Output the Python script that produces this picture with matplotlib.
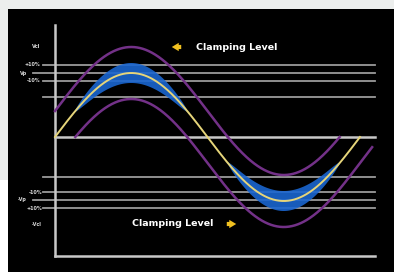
import numpy as np
import matplotlib
matplotlib.use("Agg")
import matplotlib.pyplot as plt
from matplotlib.patches import Rectangle

# signal levels (arbitrary units, zero line = 0)
amp = 64.0           # yellow sine peak
tol = 26.0           # purple envelope offset
band = 10.0          # blue band half width at the peak
level_upper = [72, 64, 56, 40]
level_lower = [-40, -55, -63, -71]
label_upper = ["Vcl", "+10%", "Vp", "-10%"]
label_upper_y = [90, 72, 64, 56]
label_lower = ["-10%", "-Vp", "+10%", "-Vcl"]
label_lower_y = [-55, -63, -71, -87]
clamp_text = "Clamping Level"

px_per_rad = 305 / (2 * np.pi)

fig = plt.figure(figsize=(3.94, 2.72), dpi=100)
fig.patch.set_facecolor("#eceeed")
# white strip bottom left
fig.patches.append(Rectangle((0, 0), 8 / 394, 92 / 272, transform=fig.transFigure,
                             facecolor="white", edgecolor="none", zorder=0))

ax = fig.add_axes([8 / 394, 0, 386 / 394, 263 / 272])
ax.set_facecolor("black")
ax.set_xlim((8 - 55) / px_per_rad, (394 - 55) / px_per_rad)
ax.set_ylim(-135, 128)
for s in ax.spines.values():
    s.set_visible(False)
ax.set_xticks([])
ax.set_yticks([])


def xl(px):
    return (px - 55) / px_per_rad


x_end = xl(375)
x_short = xl(43)
x_long = xl(33)

# reference levels
for lv in level_upper + level_lower:
    start = x_long if lv in (64, -63) else x_short
    ax.plot([start, x_end], [lv, lv], color="#9a9a9a", lw=1.3, zorder=1)

# axes frame
ax.plot([0, 0], [112, -119], color="#c8c8c8", lw=1.8, zorder=2)
ax.plot([0, x_end], [0, 0], color="#c8c8c8", lw=1.8, zorder=2)
ax.plot([0, x_end], [-119, -119], color="#c8c8c8", lw=1.8, zorder=2)

a = np.arcsin(tol / amp)
t = np.linspace(0, 2 * np.pi, 600)
y = amp * np.sin(t)

# blue band near the peaks
s = np.abs(np.sin(t))
w = band * np.clip((s - 0.4) / 0.6, 0, None) ** 0.6
ax.fill_between(t, y - w, y + w, where=w > 0, color="#1a66d0", alpha=0.9,
                lw=0, zorder=3)

# purple envelopes
t_hi = np.linspace(0, 2 * np.pi - a, 600)
t_lo = np.linspace(a, 2 * np.pi + 0.25, 600)
hi = amp * np.sin(t_hi) + tol
lo = amp * np.sin(t_lo) - tol
ax.plot(np.where(t_hi <= np.pi + a, t_hi, np.nan), hi, color="#733188", lw=1.8, zorder=4)
ax.plot(np.where(t_hi >= np.pi + a, t_hi, np.nan), hi, color="#733188", lw=1.8, zorder=4)
ax.plot(np.where(t_lo <= np.pi - a, t_lo, np.nan), lo, color="#733188", lw=1.8, zorder=4)
ax.plot(np.where(t_lo >= np.pi - a, t_lo, np.nan), lo, color="#733188", lw=1.8, zorder=4)

# the signal
ax.plot(t, y, color="#e6d57a", lw=1.4, zorder=5)

# left labels
for lab, ly in zip(label_upper, label_upper_y):
    ax.text(xl(40) if lab != "Vp" else xl(27), ly, lab, color="#d8d8d8",
            fontsize=3.5, ha="right", va="center", fontweight="bold")
for lab, ly in zip(label_lower, label_lower_y):
    ax.text(xl(42) if lab != "-Vp" else xl(27), ly, lab, color="#d8d8d8",
            fontsize=3.5, ha="right", va="center", fontweight="bold")

# clamping level notes
arrow = "simple,head_width=0.6,head_length=0.5,tail_width=0.3"
ax.text(xl(196), 90, clamp_text, color="white", fontsize=6.8,
        fontweight="bold", ha="left", va="center")
ax.annotate("", xy=(xl(169), 90), xytext=(xl(184), 90),
            arrowprops=dict(arrowstyle=arrow, color="#f0c020", lw=0))
ax.text(xl(132), -87, clamp_text, color="white", fontsize=6.8,
        fontweight="bold", ha="left", va="center")
ax.annotate("", xy=(xl(239), -87), xytext=(xl(224), -87),
            arrowprops=dict(arrowstyle=arrow, color="#f0c020", lw=0))

fig.savefig("out.png", dpi=100, facecolor=fig.get_facecolor())
